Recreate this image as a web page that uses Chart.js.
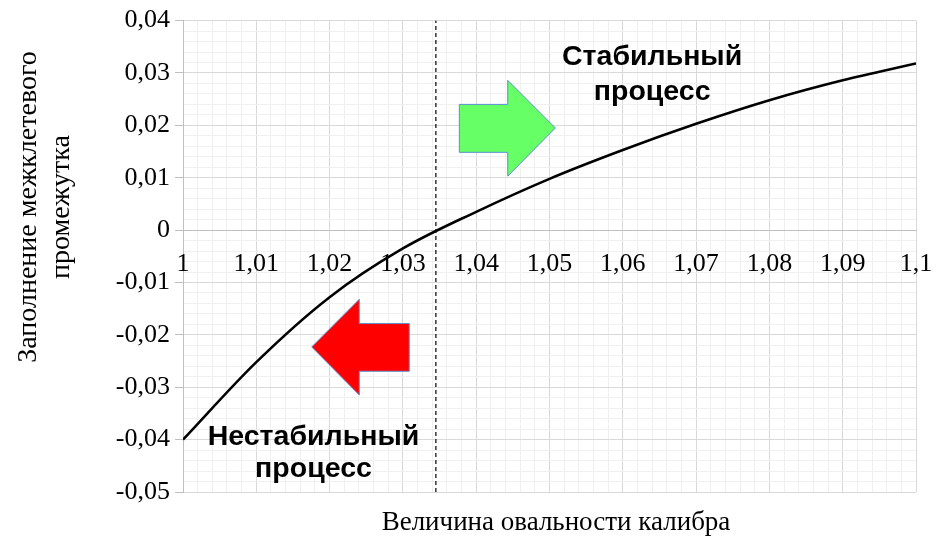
<!DOCTYPE html>
<html>
<head>
<meta charset="utf-8">
<script src="https://cdn.jsdelivr.net/npm/chart.js@4"></script>
<style>
  html, body { margin: 0; padding: 0; background: #fff; }
  #wrap { width: 936px; height: 544px; }
</style>
</head>
<body>
<div id="wrap"><canvas id="chart" width="936" height="544"></canvas></div>
<script>
// values
const ovality = [1.00, 1.01, 1.02, 1.03, 1.04, 1.05, 1.06, 1.07, 1.08, 1.09, 1.10];
const gapFill = [-0.0400, -0.0252, -0.0128, -0.0035, 0.0035, 0.0098, 0.0153, 0.0203, 0.0248, 0.0286, 0.0318];
const boundaryX = 1.0345;
const xRange = [1, 1.1];
const yRange = [-0.05, 0.04];
const minorStep = 0.002;

const xTitle = 'Величина овальности калибра';
const yTitle = ['Заполнение межклетевого', 'промежутка'];
const stableText = ['Стабильный', 'процесс'];
const unstableText = ['Нестабильный', 'процесс'];

// arrow outlines in data units
const greenArrow = [[1.0377, 0.0240], [1.0443, 0.0240], [1.0443, 0.0286], [1.0508, 0.0195],
                    [1.0443, 0.0103], [1.0443, 0.01485], [1.0377, 0.01485]];
const redArrow = [[1.03087, -0.01784], [1.02405, -0.01784], [1.02405, -0.0132], [1.01756, -0.0223],
                  [1.02405, -0.0315], [1.02405, -0.02695], [1.03087, -0.02695]];

const serif = '"Liberation Serif", "Times New Roman", serif';
const sans = '"Liberation Sans", Arial, sans-serif';

const isMajor = v => Math.abs(Math.round(v * 1000)) % 10 === 0;
const fmt = v => (Math.round(v * 100) / 100).toString().replace('.', ',');

const annotations = {
    id: 'annotations',
    afterDatasetsDraw(chart) {
        const {ctx, scales: {x, y}} = chart;
        const poly = (pts, fill) => {
            ctx.beginPath();
            pts.forEach(([px, py], i) => {
                const X = x.getPixelForValue(px), Y = y.getPixelForValue(py);
                if (i === 0) ctx.moveTo(X, Y); else ctx.lineTo(X, Y);
            });
            ctx.closePath();
            ctx.fillStyle = fill;
            ctx.fill();
            ctx.strokeStyle = '#5b8fd0';
            ctx.lineWidth = 1;
            ctx.stroke();
        };
        ctx.save();
        poly(greenArrow, '#66ff66');
        poly(redArrow, '#ff0000');

        ctx.fillStyle = '#000';
        ctx.font = 'bold 28.5px ' + sans;
        ctx.textAlign = 'center';
        ctx.textBaseline = 'alphabetic';
        ctx.fillText(stableText[0], x.getPixelForValue(1.0640), y.getPixelForValue(0.03145));
        ctx.fillText(stableText[1], x.getPixelForValue(1.0640), y.getPixelForValue(0.02477));
        ctx.fillText(unstableText[0], x.getPixelForValue(1.0178), y.getPixelForValue(-0.04107));
        ctx.fillText(unstableText[1], x.getPixelForValue(1.0178), y.getPixelForValue(-0.04718));
        ctx.restore();
    },
    afterDraw(chart) {
        const {ctx} = chart;
        ctx.save();
        ctx.fillStyle = '#000';
        ctx.font = '27px ' + serif;
        ctx.textAlign = 'center';
        ctx.textBaseline = 'alphabetic';
        ctx.fillText(xTitle, 556, 530);
        ctx.font = '28px ' + serif;
        ctx.translate(0, 207);
        ctx.rotate(-Math.PI / 2);
        ctx.fillText(yTitle[0], 0, 36);
        ctx.fillText(yTitle[1], 0, 69);
        ctx.restore();
    }
};

new Chart(document.getElementById('chart'), {
    type: 'line',
    data: {
        datasets: [{
            data: ovality.map((v, i) => ({x: v, y: gapFill[i]})),
            borderColor: '#000',
            borderWidth: 2.5,
            pointRadius: 0,
            cubicInterpolationMode: 'monotone',
            fill: false
        }, {
            data: [{x: boundaryX, y: yRange[0]}, {x: boundaryX, y: yRange[1]}],
            borderColor: '#000',
            borderWidth: 1.2,
            borderDash: [4, 3],
            pointRadius: 0,
            fill: false
        }]
    },
    options: {
        responsive: false,
        animation: false,
        layout: { padding: { top: 20, right: 20, bottom: 52, left: 0 } },
        plugins: { legend: { display: false }, tooltip: { enabled: false } },
        scales: {
            x: {
                type: 'linear',
                position: { y: 0 },
                min: xRange[0], max: xRange[1],
                afterFit: s => { s.paddingLeft = 0; s.paddingRight = 0; },
                ticks: {
                    stepSize: minorStep,
                    autoSkip: false,
                    maxRotation: 0,
                    padding: 18,
                    z: 1,
                    color: '#000',
                    font: { family: serif, size: 26 },
                    callback: v => isMajor(v) ? fmt(v) : ''
                },
                grid: {
                    drawTicks: false,
                    color: c => isMajor(c.tick.value) ? '#d9d9d9' : '#f0f0f0',
                    lineWidth: 1
                },
                border: { color: '#bfbfbf', width: 1 }
            },
            y: {
                type: 'linear',
                min: yRange[0], max: yRange[1],
                afterFit: s => { s.width = 183; },
                ticks: {
                    stepSize: minorStep,
                    autoSkip: false,
                    padding: 5,
                    color: '#000',
                    font: { family: serif, size: 26 },
                    callback: v => isMajor(v) ? fmt(v) : ''
                },
                grid: {
                    tickLength: 8,
                    color: c => isMajor(c.tick.value) ? '#d9d9d9' : '#f0f0f0',
                    tickColor: c => isMajor(c.tick.value) ? '#bfbfbf' : 'rgba(0,0,0,0)',
                    lineWidth: 1
                },
                border: { color: '#bfbfbf', width: 1 }
            }
        }
    },
    plugins: [annotations]
});
</script>
</body>
</html>
